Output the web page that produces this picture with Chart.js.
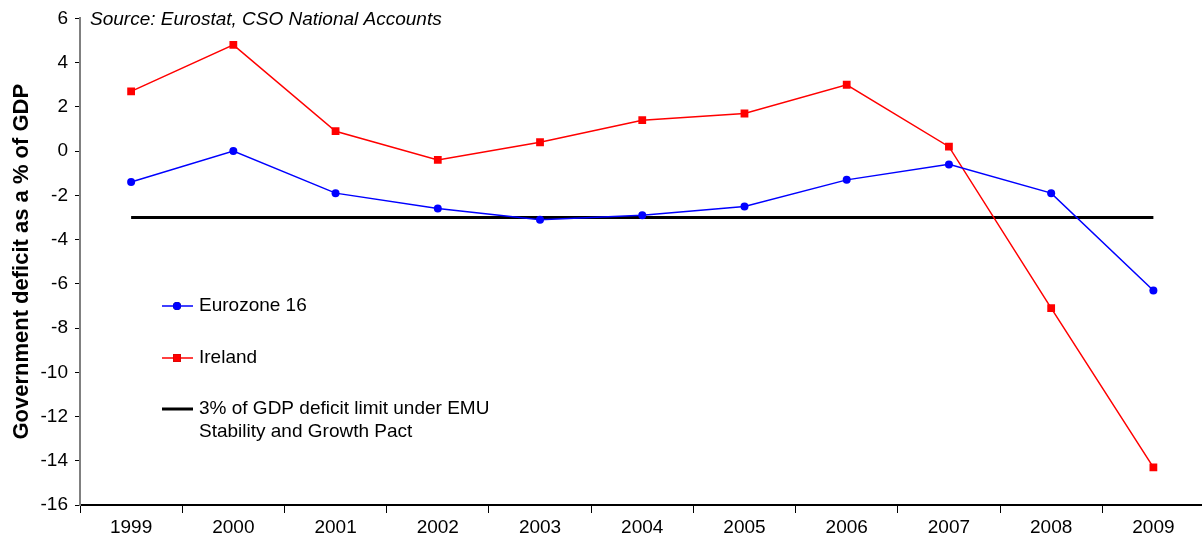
<!DOCTYPE html>
<html>
<head>
<meta charset="utf-8">
<script src="https://cdn.jsdelivr.net/npm/chart.js@4"></script>
<style>
  html, body { margin: 0; padding: 0; overflow: hidden; background: #fff; }
  #wrap { width: 1210px; height: 542px; }
</style>
</head>
<body>
<div id="wrap"><canvas id="chart" width="1210" height="542"></canvas></div>
<script>
const years = ['1999', '2000', '2001', '2002', '2003', '2004', '2005', '2006', '2007', '2008', '2009'];
const eurozone = [-1.4, 0.0, -1.9, -2.6, -3.1, -2.9, -2.5, -1.3, -0.6, -1.9, -6.3];
const ireland = [2.7, 4.8, 0.9, -0.4, 0.4, 1.4, 1.7, 3.0, 0.2, -7.1, -14.3];
const limit = [-3, -3, -3, -3, -3, -3, -3, -3, -3, -3, -3];
const seriesNames = ['Eurozone 16', 'Ireland', '3% of GDP deficit limit under EMU\nStability and Growth Pact'];
const yTitle = 'Government deficit as a % of GDP';
const sourceNote = 'Source: Eurostat, CSO National Accounts';

const FONT = '"Liberation Sans", Arial, sans-serif';

// legend + source note drawn inside the plot
const extras = {
  id: 'extras',
  afterDraw(chart) {
    const ctx = chart.ctx;
    ctx.save();
    ctx.fillStyle = '#000';
    ctx.font = 'italic 19px ' + FONT;
    ctx.textBaseline = 'middle';
    ctx.fillText(sourceNote, 90, 20);

    const rows = [306, 358, 409];
    chart.data.datasets.forEach((ds, i) => {
      const y = rows[i];
      ctx.strokeStyle = ds.borderColor;
      ctx.lineWidth = ds.borderWidth;
      ctx.beginPath();
      ctx.moveTo(162, y);
      ctx.lineTo(193, y);
      ctx.stroke();
      if (ds.pointRadius > 0) {
        Chart.helpers.drawPoint(ctx, {
          pointStyle: ds.pointStyle, radius: ds.pointRadius, rotation: 0, borderWidth: 0
        }, 177, y);
        ctx.fillStyle = ds.pointBackgroundColor;
        ctx.fill();
      }
      ctx.fillStyle = '#000';
      ctx.font = '19px ' + FONT;
      ds.label.split('\n').forEach((line, j) => {
        ctx.fillText(line, 199, y + j * 23);
      });
    });
    ctx.restore();
  }
};

new Chart(document.getElementById('chart'), {
  type: 'line',
  data: {
    labels: years,
    datasets: [
      {
        label: seriesNames[0],
        data: eurozone,
        borderColor: '#0000ff',
        backgroundColor: '#0000ff',
        pointBackgroundColor: '#0000ff',
        borderWidth: 1.5,
        pointStyle: 'circle',
        pointRadius: 4,
        pointBorderWidth: 0
      },
      {
        label: seriesNames[1],
        data: ireland,
        borderColor: '#ff0000',
        backgroundColor: '#ff0000',
        pointBackgroundColor: '#ff0000',
        borderWidth: 1.5,
        pointStyle: 'rect',
        pointRadius: 5.5,
        pointBorderWidth: 0
      },
      {
        label: seriesNames[2],
        data: limit,
        borderColor: '#000000',
        backgroundColor: '#000000',
        borderWidth: 3,
        pointRadius: 0
      }
    ]
  },
  options: {
    responsive: false,
    animation: false,
    layout: { padding: { top: 18, right: 0, left: 0, bottom: 0 } },
    plugins: {
      legend: { display: false },
      tooltip: { enabled: false }
    },
    scales: {
      x: {
        offset: true,
        grid: {
          offset: true,
          drawOnChartArea: false,
          drawTicks: true,
          tickLength: 8,
          color: '#000'
        },
        border: { color: '#000', width: 2 },
        ticks: {
          color: '#000',
          font: { family: FONT, size: 19 },
          padding: 3,
          maxRotation: 0
        },
        afterFit(scale) { scale.height = 37; }
      },
      y: {
        min: -16,
        max: 6,
        ticks: {
          stepSize: 2,
          color: '#000',
          font: { family: FONT, size: 19 },
          padding: 7
        },
        grid: {
          drawOnChartArea: false,
          tickLength: 5,
          color: '#000'
        },
        border: { color: '#808080', width: 2 },
        title: {
          display: true,
          text: yTitle,
          color: '#000',
          font: { family: FONT, size: 22, weight: 'bold' },
          padding: { top: 9, bottom: 0 }
        },
        afterFit(scale) { scale.width = 80; }
      }
    }
  },
  plugins: [extras]
});
</script>
</body>
</html>
